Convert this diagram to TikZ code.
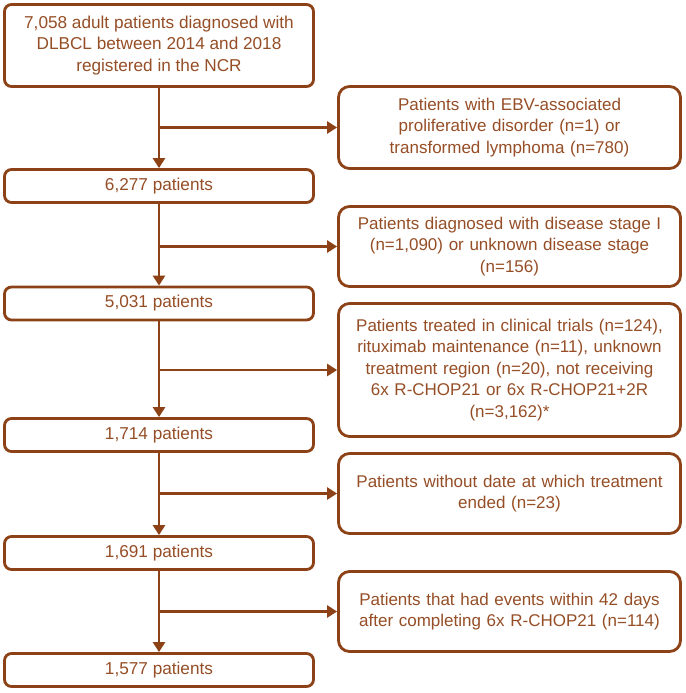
\documentclass[tikz,border=0pt]{standalone}
\usepackage{fontspec}
\setmainfont{Liberation Sans}
\usepackage{tikz}
\usetikzlibrary{arrows.meta,positioning,calc}
\usepackage{xcolor}
\definecolor{boxcol}{RGB}{140,66,22}
\definecolor{txtcol}{RGB}{150,78,38}
\tikzset{
  % main flow box (left column)
  mainbox/.style={rectangle, rounded corners=7pt, draw=boxcol, line width=2.8pt, fill=white,
                  minimum width=309pt, minimum height=#1, text=txtcol, align=center,
                  font=\fontsize{17.2}{21.5}\selectfont, inner sep=2pt},
  mainbox/.default={33pt},
  % exclusion box (right column)
  exclbox/.style={rectangle, rounded corners=11pt, draw=boxcol, line width=2.8pt, fill=white,
                  minimum width=342pt, minimum height=#1, text=txtcol, align=center,
                  text width=336pt, font=\fontsize{17}{21.5}\selectfont, inner sep=2pt},
  exclbox/.default={80pt},
  % flow arrow
  flowarrow/.style={-{Triangle[length=10pt,width=12pt]}, draw=boxcol, line width=2.8pt},
}

\begin{document}
\begin{tikzpicture}[x=1pt,y=-1pt]
  \useasboundingbox (0,0) rectangle (685,693);
  % left column
  \node[mainbox=82pt] (start) at (159,45.5)
    {7,058 adult patients diagnosed with\\DLBCL between 2014 and 2018\\registered in the NCR};
  \node[mainbox] (n1) at (159,186)   {6,277 patients};
  \node[mainbox] (n2) at (159,303.5) {5,031 patients};
  \node[mainbox] (n3) at (159,435)   {1,714 patients};
  \node[mainbox] (n4) at (159,553)   {1,691 patients};
  \node[mainbox] (n5) at (159,670)   {1,577 patients};
  % right column
  \node[exclbox=82pt] (ex1) at (509.5,127.5)
    {Patients with EBV-associated\\proliferative disorder (n=1) or\\transformed lymphoma (n=780)};
  \node[exclbox] (ex2) at (509.5,246.5)
    {Patients diagnosed with disease stage I\\(n=1,090) or unknown disease stage\\(n=156)};
  \node[exclbox=133pt] (ex3) at (509.5,370)
    {Patients treated in clinical trials (n=124),\\rituximab maintenance (n=11), unknown\\treatment region (n=20), not receiving\\6x R-CHOP21 or 6x R-CHOP21+2R\\(n=3,162)*};
  \node[exclbox] (ex4) at (509.5,493.5)
    {Patients without date at which treatment\\ended (n=23)};
  \node[exclbox] (ex5) at (509.5,611.5)
    {Patients that had events within 42 days\\after completing 6x R-CHOP21 (n=114)};
  % arrows
  \draw[flowarrow] (start) -- (n1);
  \draw[flowarrow] (n1) -- (n2);
  \draw[flowarrow] (n2) -- (n3);
  \draw[flowarrow] (n3) -- (n4);
  \draw[flowarrow] (n4) -- (n5);
  \draw[flowarrow] (start.south |- ex1.west) -- (ex1.west);
  \draw[flowarrow] (n1.south |- ex2.west) -- (ex2.west);
  \draw[flowarrow] (n2.south |- ex3.west) -- (ex3.west);
  \draw[flowarrow] (n3.south |- ex4.west) -- (ex4.west);
  \draw[flowarrow] (n4.south |- ex5.west) -- (ex5.west);
\end{tikzpicture}
\end{document}
